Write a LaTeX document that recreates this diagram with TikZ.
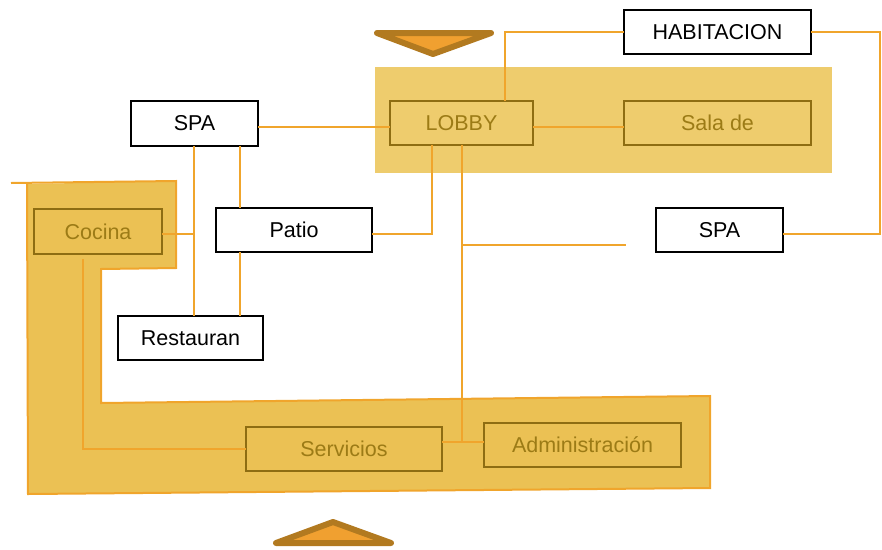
\documentclass[tikz,border=0pt]{standalone}
\usepackage{fontspec}
\setmainfont{Liberation Sans}
\usetikzlibrary{calc}
\definecolor{bandgold}{HTML}{EECC6D}
\definecolor{zonegold}{HTML}{EBC154}
\definecolor{wire}{HTML}{F0A52C}
\definecolor{boxbrown}{HTML}{8E6D12}
\definecolor{textbrown}{HTML}{9C7B16}
\definecolor{tripfill}{HTML}{F0A030}
\definecolor{tripedge}{HTML}{B27A20}
\tikzset{
  plainbox/.style={draw=black, line width=2.1pt, fill=white, inner sep=0pt, outer sep=0pt,
    font=\fontsize{21.5}{25}\selectfont, text=black},
  goldbox/.style={draw=boxbrown, line width=2.1pt, inner sep=0pt, outer sep=0pt,
    font=\fontsize{21.5}{25}\selectfont, text=textbrown},
  wirel/.style={draw=wire, line width=1.8pt},
  marker/.style={draw=tripedge, fill=tripfill, line width=6pt, line join=round, line cap=round}
}
\begin{document}
\begin{tikzpicture}[x=1pt, y=-1pt]
\useasboundingbox (0,0) rectangle (882,549);

% L-shaped service zone
\fill[zonegold] (27,184) -- (176,181) -- (176,268) -- (101,269) -- (101,403)
  -- (710,396) -- (710,488) -- (28,494) -- cycle;
\draw[draw=wire, line width=2pt] (11,183) -- (176,181) -- (176,268) -- (101,269) -- (101,403)
  -- (710,396) -- (710,488) -- (28,494) -- (27,183);

% lobby band
\fill[bandgold] (375,67) rectangle (832,173);

% direction markers
\draw[marker] (377,33) -- (491,33) -- (433,54) -- cycle;
\draw[marker] (276,543) -- (391,543) -- (333,522) -- cycle;

% nodes
\node[plainbox, minimum width=187, minimum height=44] (hab) at (717.5,32) {HABITACION};
\node[plainbox, minimum width=127, minimum height=45] (spaL) at (194.5,123.5) {SPA};
\node[plainbox, minimum width=156, minimum height=44] (patio) at (294,230) {Patio};
\node[plainbox, minimum width=127, minimum height=44] (spaR) at (719.5,230) {SPA};
\node[plainbox, minimum width=145, minimum height=44] (rest) at (190.5,338) {Restauran};
\node[goldbox, minimum width=143, minimum height=44] (lobby) at (461.5,123) {LOBBY};
\node[goldbox, minimum width=187, minimum height=44] (sala) at (717.5,123) {Sala de};
\node[goldbox, minimum width=128, minimum height=45] (cocina) at (98,231.5) {Cocina};
\node[goldbox, minimum width=196, minimum height=44] (serv) at (344,449) {Servicios};
\node[goldbox, minimum width=197, minimum height=44] (adm) at (582.5,445) {Administración};

% connectors
\coordinate (j) at (462,442);
\coordinate (k) at (462,245);
\coordinate (kend) at (626,245);
\draw[wirel] (spaL.east |- 0,127) -- (lobby.west |- 0,127);
\draw[wirel] ([xshift=43.5]lobby.north) |- (hab.west);
\draw[wirel] (lobby.east |- 0,127) -- (sala.west |- 0,127);
\draw[wirel] (hab.east) -- ++(69,0) |- (spaR.east |- 0,234);
\draw[wirel] ([xshift=-0.5]spaL.south) coordinate (sa) -- (sa |- rest.north);
\draw[wirel] (cocina.east |- 0,234) -- (sa |- 0,234);
\draw[wirel] ([xshift=45.5]spaL.south) coordinate (sb) -- (sb |- patio.north);
\draw[wirel] ([xshift=-54]patio.south) coordinate (pb) -- (pb |- rest.north);
\draw[wirel] (patio.east |- 0,234) -| ([xshift=-29.5]lobby.south);
\draw[wirel] ([xshift=0.5]lobby.south) -- (j);
\draw[wirel] (k) -- (kend);
\draw[wirel] (j -| serv.east) -- (j -| adm.west);
\draw[wirel] ([xshift=-15,yshift=-5]cocina.south) |- (serv.west);
\end{tikzpicture}
\end{document}
